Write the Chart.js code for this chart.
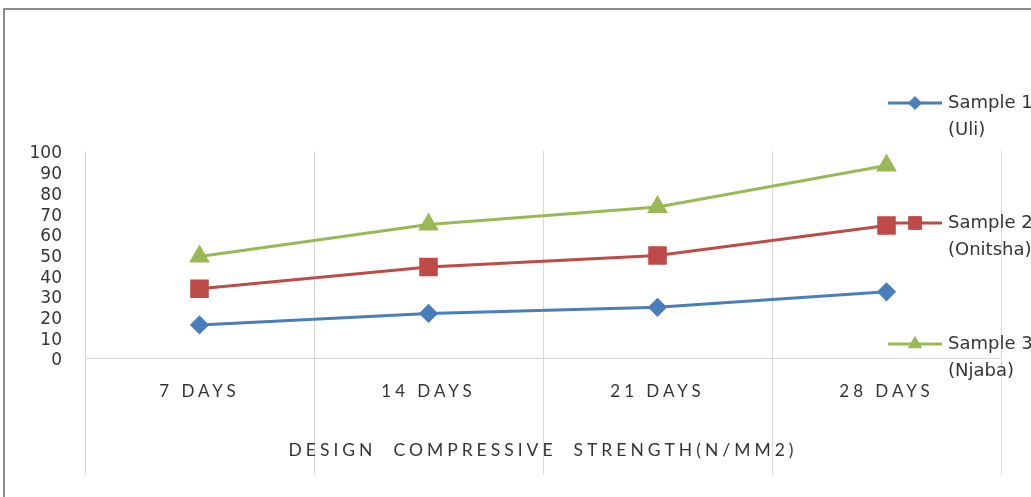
<!DOCTYPE html>
<html>
<head>
<meta charset="utf-8">
<script src="https://cdn.jsdelivr.net/npm/chart.js@4/dist/chart.umd.min.js"></script>
<style>
  html, body { margin: 0; padding: 0; background: #fff; overflow: hidden; }
  #frame { position: absolute; left: 3px; top: 8px; width: 1100px; height: 600px; border: 2px solid #8c8c8c; }
  #chart { position: absolute; left: 0; top: 0; }
</style>
</head>
<body>
<div id="frame"></div>
<canvas id="chart" width="1031" height="497"></canvas>
<script>
// data
const dayLabels = ["7 DAYS", "14 DAYS", "21 DAYS", "28 DAYS"];
const uliValues = [16, 21.5, 24.5, 32];
const onitshaValues = [33.5, 44, 49.5, 64];
const njabaValues = [49, 64.5, 73, 93];
const seriesNames = [["Sample 1", "(Uli)"], ["Sample 2", "(Onitsha)"], ["Sample 3", "(Njaba)"]];
const axisTitle = "DESIGN  COMPRESSIVE  STRENGTH(N/MM2)";

const textColor = "#353535";
const gridColor = "#d9d9d9";

const legendSpots = [103, 223, 344];

const extrasPlugin = {
    id: "extras",
    beforeDraw(chart) {
        const ctx = chart.ctx;
        const x = chart.scales.x;
        const area = chart.chartArea;
        // category separators run down through the label area
        ctx.save();
        ctx.strokeStyle = gridColor;
        ctx.lineWidth = 1;
        for (let i = 0; i <= dayLabels.length; i++) {
            const px = Math.round(x.getPixelForValue(i - 0.5)) + 0.5;
            ctx.beginPath();
            ctx.moveTo(px, area.top);
            ctx.lineTo(px, area.bottom + 117);
            ctx.stroke();
        }
        ctx.restore();
        // spaced-out caps on the category axis
        ctx.letterSpacing = "4px";
    },
    beforeDatasetsDraw(chart) {
        chart.ctx.letterSpacing = "0px";
    },
    afterDraw(chart) {
        const ctx = chart.ctx;
        ctx.save();
        ctx.letterSpacing = "0px";
        chart.data.datasets.forEach((ds, i) => {
            const y = legendSpots[i];
            ctx.strokeStyle = ds.borderColor;
            ctx.lineWidth = 3;
            ctx.beginPath();
            ctx.moveTo(888, y);
            ctx.lineTo(942, y);
            ctx.stroke();
            ctx.fillStyle = ds.backgroundColor;
            ctx.strokeStyle = ds.borderColor;
            ctx.lineWidth = 1;
            Chart.helpers.drawPoint(ctx, {
                pointStyle: ds.pointStyle,
                radius: ds.legendRadius,
                rotation: 0,
                borderWidth: 1
            }, 915, y);
            ctx.fillStyle = textColor;
            ctx.font = "18px 'DejaVu Sans'";
            ctx.textBaseline = "middle";
            ctx.textAlign = "left";
            ds.label.forEach((line, j) => {
                ctx.fillText(line, 948, y + j * 27);
            });
        });
        ctx.restore();
    }
};

const ctx = document.getElementById("chart").getContext("2d");

const chart = new Chart(ctx, {
    type: "line",
    data: {
        labels: dayLabels,
        datasets: [
            {
                label: seriesNames[0],
                data: uliValues,
                borderColor: "#4a7ebb",
                backgroundColor: "#4a7ebb",
                pointStyle: "rectRot",
                pointRadius: 7.5,
                legendRadius: 6.5,
                borderWidth: 3,
                tension: 0
            },
            {
                label: seriesNames[1],
                data: onitshaValues,
                borderColor: "#be4b48",
                backgroundColor: "#be4b48",
                pointStyle: "rect",
                pointRadius: 11,
                legendRadius: 9,
                borderWidth: 3,
                tension: 0
            },
            {
                label: seriesNames[2],
                data: njabaValues,
                borderColor: "#98b954",
                backgroundColor: "#98b954",
                pointStyle: "triangle",
                pointRadius: 9,
                legendRadius: 7.5,
                borderWidth: 3,
                tension: 0
            }
        ]
    },
    options: {
        responsive: false,
        animation: false,
        layout: { padding: { left: 0, right: 30, top: 151, bottom: 0 } },
        plugins: {
            legend: { display: false },
            tooltip: { enabled: false }
        },
        scales: {
            x: {
                offset: true,
                grid: { display: false, drawTicks: false },
                border: { display: false },
                ticks: {
                    color: textColor,
                    padding: 23,
                    maxRotation: 0,
                    font: { family: "Lato", size: 17 }
                },
                title: {
                    display: true,
                    text: axisTitle,
                    color: textColor,
                    padding: { top: 0, bottom: 36 },
                    font: { family: "Lato", size: 17.5 }
                },
                afterFit(scale) { scale.height = 139; }
            },
            y: {
                min: 0,
                max: 100,
                grid: {
                    drawTicks: false,
                    color: (c) => c.tick && c.tick.value === 0 ? gridColor : "rgba(0,0,0,0)"
                },
                border: { display: false },
                ticks: {
                    z: 1,
                    stepSize: 10,
                    autoSkip: false,
                    labelOffset: 3,
                    color: textColor,
                    padding: 23,
                    font: { family: "DejaVu Sans", size: 17 }
                },
                afterFit(scale) { scale.width = 85; }
            }
        }
    },
    plugins: [extrasPlugin]
});
</script>
</body>
</html>
